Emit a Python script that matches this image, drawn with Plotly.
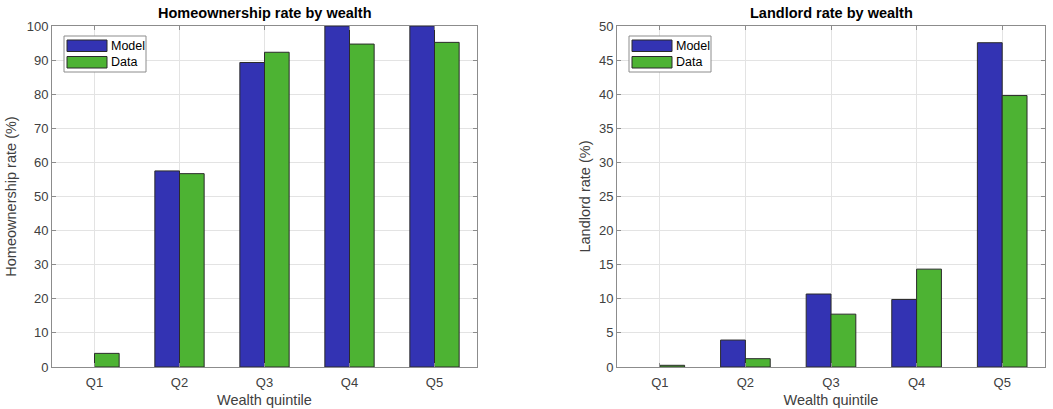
import plotly.graph_objects as go

# Wealth quintiles
quintiles = ["Q1", "Q2", "Q3", "Q4", "Q5"]

# Homeownership rate (%) by wealth quintile
own_model = [0.0, 57.5, 89.3, 100.0, 100.0]
own_data = [4.0, 56.7, 92.3, 94.7, 95.2]

# Landlord rate (%) by wealth quintile
land_model = [0.0, 3.95, 10.7, 9.9, 47.55]
land_data = [0.25, 1.22, 7.75, 14.35, 39.8]

own_ticks = [0, 10, 20, 30, 40, 50, 60, 70, 80, 90, 100]
land_ticks = [0, 5, 10, 15, 20, 25, 30, 35, 40, 45, 50]

BLUE = "#3333b3"
GREEN = "#4db333"
EDGE = "#2b2b2b"
AXIS = "#8c8c8c"
FAMILY = "Liberation Sans, Arial, sans-serif"
TICKFONT = dict(family=FAMILY, size=13, color="#404040")
LABELFONT = dict(family=FAMILY, size=14.5, color="#404040")

W, H = 1053, 409
# plot areas in pixels
L1, R1 = 52, 477
L2, R2 = 617, 1045
TOP, BOT = 26, 367


def edge_widths(values):
    # zero-height bars get no outline
    return [0 if v == 0 else 1 for v in values]


fig = go.Figure()

for xa, ya, model, data in [("x", "y", own_model, own_data),
                            ("x2", "y2", land_model, land_data)]:
    fig.add_trace(go.Bar(x=quintiles, y=model, name="Model", xaxis=xa, yaxis=ya,
                         marker=dict(color=BLUE,
                                     line=dict(color=EDGE, width=edge_widths(model))),
                         showlegend=False))
    fig.add_trace(go.Bar(x=quintiles, y=data, name="Data", xaxis=xa, yaxis=ya,
                         marker=dict(color=GREEN,
                                     line=dict(color=EDGE, width=edge_widths(data))),
                         showlegend=False))

common_x = dict(type="category", range=[-0.5, 4.5], showgrid=True, gridcolor="#e3e3e3",
                showline=True, linecolor=AXIS, linewidth=1, mirror="ticks",
                ticks="inside", ticklen=4, tickcolor=AXIS, tickfont=TICKFONT,
                ticklabelstandoff=3,
                title=dict(text="Wealth quintile", font=LABELFONT, standoff=6),
                zeroline=False)
common_y = dict(showgrid=True, gridcolor="#e3e3e3", showline=True, linecolor=AXIS,
                linewidth=1, mirror="ticks", ticks="inside", ticklen=4, tickcolor=AXIS,
                tickfont=TICKFONT, zeroline=False)

fig.update_layout(
    width=W, height=H,
    margin=dict(l=0, r=0, t=TOP, b=H - BOT),
    paper_bgcolor="white", plot_bgcolor="white",
    barmode="group", bargap=0.42, bargroupgap=0.0,
    xaxis=dict(common_x, domain=[L1 / W, R1 / W], anchor="y"),
    yaxis=dict(common_y, range=[0, 100], tickvals=own_ticks, anchor="x",
               title=dict(text="Homeownership rate (%)", font=LABELFONT, standoff=6)),
    xaxis2=dict(common_x, domain=[L2 / W, R2 / W], anchor="y2"),
    yaxis2=dict(common_y, range=[0, 50], tickvals=land_ticks, anchor="x2",
                title=dict(text="Landlord rate (%)", font=LABELFONT, standoff=4)),
)


# pixel -> paper coordinates (paper spans the area inside the margins)
def px(x):
    return x / W


def py(y):
    return (BOT - y) / (BOT - TOP)


titles = [("Homeownership rate by wealth", L1, R1), ("Landlord rate by wealth", L2, R2)]
for text, l, r in titles:
    fig.add_annotation(text="<b>%s</b>" % text, xref="paper", yref="paper",
                       x=px((l + r) / 2), y=py(13), xanchor="center", yanchor="middle",
                       showarrow=False,
                       font=dict(family=FAMILY, size=14.5, color="black"))


# legend boxes drawn inside each plot area
def add_legend(l):
    fig.add_shape(type="rect", xref="paper", yref="paper",
                  x0=px(l + 12), x1=px(l + 94), y0=py(36), y1=py(72),
                  line=dict(color="#8c8c8c", width=1), fillcolor="white")
    for (label, color, y0, y1) in [("Model", BLUE, 40, 51.5), ("Data", GREEN, 56.5, 68)]:
        fig.add_shape(type="rect", xref="paper", yref="paper",
                      x0=px(l + 15), x1=px(l + 55), y0=py(y0), y1=py(y1),
                      line=dict(color=EDGE, width=1), fillcolor=color)
        fig.add_annotation(text=label, xref="paper", yref="paper",
                           x=px(l + 57), y=py((y0 + y1) / 2), xanchor="left",
                           yanchor="middle", showarrow=False,
                           font=dict(family=FAMILY, size=12.5, color="black"))


add_legend(L1)
add_legend(L2)

fig.write_html("out.html")
